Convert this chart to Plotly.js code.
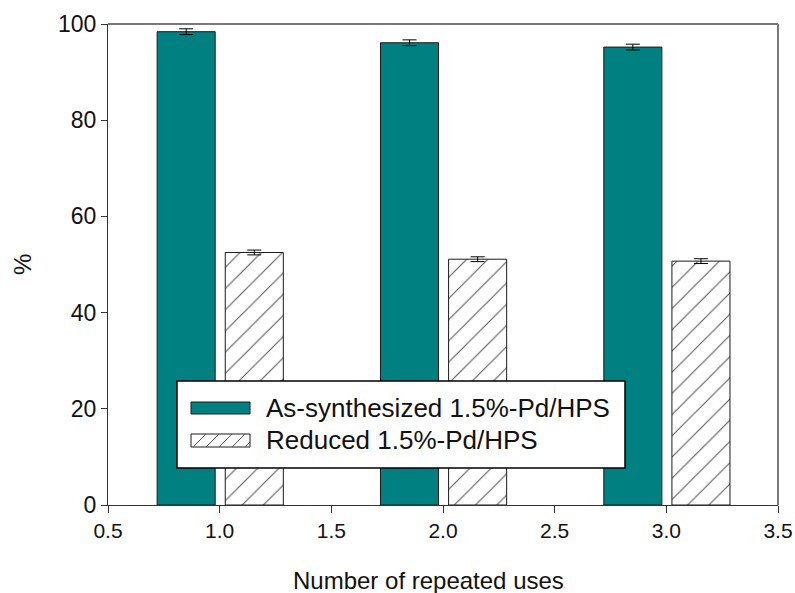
<!DOCTYPE html>
<html>
<head>
<meta charset="utf-8">
<script src="https://cdn.plot.ly/plotly-3.0.1.min.js"></script>
<style>html,body{margin:0;padding:0;background:#fff;}#chart{width:795px;height:593px;}</style>
</head>
<body>
<div id="chart"></div>
<script>
// ---- data ----
var uses = [1, 2, 3];
var asSynth = [98.4, 96.1, 95.2];
var asSynthErr = [0.6, 0.6, 0.6];
var reduced = [52.5, 51.1, 50.7];
var reducedErr = [0.5, 0.5, 0.5];
var seriesNames = ['As-synthesized 1.5%-Pd/HPS', 'Reduced 1.5%-Pd/HPS'];
var xTickVals = [0.5, 1.0, 1.5, 2.0, 2.5, 3.0, 3.5];
var yTickVals = [0, 20, 40, 60, 80, 100];
var xTitle = 'Number of repeated uses';
var yTitle = '%';

var FONT = 'Arial, "Liberation Sans", sans-serif';
var TEAL = '#008080';

// plot-area geometry (px) used for legend decoration
var L = 108, R = 17, T = 24, B = 88, W = 795, H = 593;
var PW = W - L - R, PH = H - T - B;
function px(x) { return (x - L) / PW; }
function py(y) { return (H - B - y) / PH; }

var traces = [
  {
    type: 'bar', x: uses, y: asSynth, name: seriesNames[0],
    offset: -0.28, width: 0.26,
    marker: { color: TEAL, line: { color: '#1a1a1a', width: 1 } },
    error_y: { type: 'data', array: asSynthErr, visible: true, color: '#000', thickness: 1, width: 7 },
    showlegend: false, hoverinfo: 'skip'
  },
  {
    type: 'bar', x: uses, y: reduced, name: seriesNames[1],
    offset: 0.025, width: 0.26,
    marker: {
      color: '#ffffff',
      line: { color: '#1a1a1a', width: 1 },
      pattern: { shape: '/', fgcolor: '#555555', bgcolor: '#ffffff', size: 15, solidity: 0.07 }
    },
    error_y: { type: 'data', array: reducedErr, visible: true, color: '#000', thickness: 1, width: 7 },
    showlegend: false, hoverinfo: 'skip'
  }
];

// legend decoration
var lx0 = 177, lx1 = 625, ly0 = 381, ly1 = 468;
var sx0 = 191, sx1 = 250;
var s1y0 = 402, s1y1 = 414;
var s2y0 = 434, s2y1 = 447;
var shapes = [
  { type: 'line', xref: 'paper', yref: 'paper', x0: 0, x1: 1, y0: 1, y1: 1, line: { color: '#7a7a7a', width: 2 } },
  { type: 'line', xref: 'paper', yref: 'paper', x0: 1, x1: 1, y0: 0, y1: 1, line: { color: '#7a7a7a', width: 2 } },
  { type: 'rect', xref: 'paper', yref: 'paper', x0: px(lx0), x1: px(lx1), y0: py(ly1), y1: py(ly0),
    fillcolor: '#ffffff', line: { color: '#000', width: 1.5 } },
  { type: 'rect', xref: 'paper', yref: 'paper', x0: px(sx0), x1: px(sx1), y0: py(s1y1), y1: py(s1y0),
    fillcolor: TEAL, line: { color: '#1a1a1a', width: 1 } },
  { type: 'rect', xref: 'paper', yref: 'paper', x0: px(sx0), x1: px(sx1), y0: py(s2y1), y1: py(s2y0),
    fillcolor: '#ffffff', line: { color: '#1a1a1a', width: 1 } }
];
// hatch lines in legend swatch
var hh = s2y1 - s2y0;
for (var hx = sx0 + 2; hx < sx1; hx += 13) {
  var xa = hx, ya = s2y1, xb = hx + hh, yb = s2y0;
  if (xb > sx1) { var d = xb - sx1; xb = sx1; yb = s2y0 + d; }
  shapes.push({ type: 'line', xref: 'paper', yref: 'paper', x0: px(xa), y0: py(ya), x1: px(xb), y1: py(yb),
    line: { color: '#555', width: 1 } });
}

var annotations = [
  { xref: 'paper', yref: 'paper', x: px(264), y: py(408), xanchor: 'left', yanchor: 'middle', showarrow: false,
    text: seriesNames[0], font: { family: FONT, size: 26, color: '#111' } },
  { xref: 'paper', yref: 'paper', x: px(264), y: py(440), xanchor: 'left', yanchor: 'middle', showarrow: false,
    text: seriesNames[1], font: { family: FONT, size: 26, color: '#111' } },
  { xref: 'paper', yref: 'paper', x: px(428), y: py(580), xanchor: 'center', yanchor: 'middle', showarrow: false,
    text: xTitle, font: { family: FONT, size: 24, color: '#111' } },
  { xref: 'paper', yref: 'paper', x: px(22), y: py(265), xanchor: 'center', yanchor: 'middle', showarrow: false,
    textangle: -90, text: yTitle, font: { family: FONT, size: 24, color: '#111' } }
];

var layout = {
  width: W, height: H,
  margin: { l: L, r: R, t: T, b: B, pad: 0 },
  paper_bgcolor: '#fff', plot_bgcolor: '#fff',
  barmode: 'overlay',
  showlegend: false,
  font: { family: FONT, size: 20, color: '#111' },
  xaxis: {
    range: [0.5, 3.5], tickvals: xTickVals, ticktext: xTickVals.map(function (v) { return v.toFixed(1); }),
    ticks: 'outside', ticklen: 7, tickwidth: 1, tickcolor: '#333',
    showline: true, linecolor: '#333', linewidth: 1, showgrid: false, zeroline: false,
    tickfont: { family: FONT, size: 21, color: '#111' }
  },
  yaxis: {
    range: [0, 100], tickvals: yTickVals,
    ticks: 'outside', ticklen: 6, tickwidth: 1, tickcolor: '#333',
    showline: true, linecolor: '#333', linewidth: 1, showgrid: false, zeroline: false,
    tickfont: { family: FONT, size: 23, color: '#111' }
  },
  shapes: shapes,
  annotations: annotations
};

Plotly.newPlot('chart', traces, layout, { staticPlot: true, displayModeBar: false });
</script>
</body>
</html>
